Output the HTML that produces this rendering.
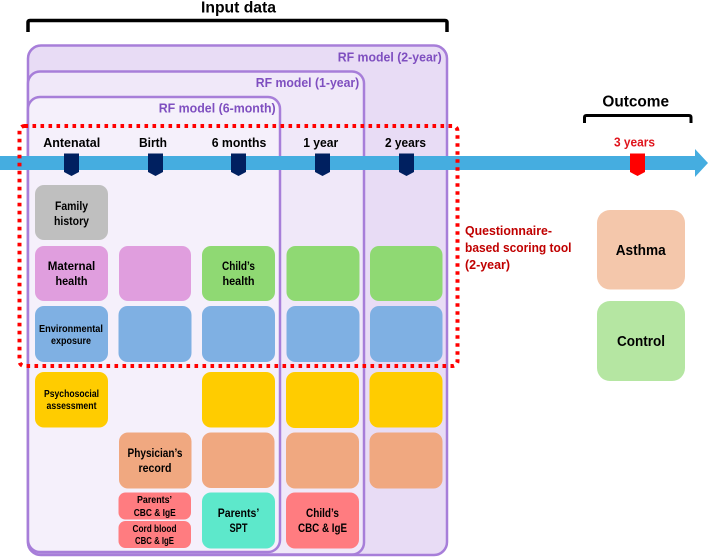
<!DOCTYPE html>
<html><head><meta charset="utf-8"><style>
html,body{margin:0;padding:0;background:#fff;width:709px;height:557px;overflow:hidden}
svg{display:block}
text{font-family:"Liberation Sans",sans-serif;font-weight:bold;text-anchor:middle;fill:#000}
.p{fill:#7f4fc0;font-size:13px}
.q{text-anchor:start;fill:#c00000;font-size:13px}
</style></head><body>
<svg width="709" height="557" viewBox="0 0 709 557" xmlns="http://www.w3.org/2000/svg">
<path d="M28 32V22.500Q28 20.500 30 20.500H445Q447 20.500 447 22.500V32" fill="none" stroke="#000" stroke-width="3.500"/>
<text x="238.500" y="12.500" font-size="15.500" textLength="75" lengthAdjust="spacingAndGlyphs">Input data</text>
<rect x="28" y="45.500" width="419" height="509.500" rx="13" fill="#e8dcf5" stroke="#a77ed9" stroke-width="2.500"/>
<rect x="28" y="71.500" width="336" height="483" rx="12" fill="#f0e8f9" stroke="#a77ed9" stroke-width="2.500"/>
<rect x="28" y="97" width="252" height="455" rx="12" fill="#f5f0fb" stroke="#a77ed9" stroke-width="2.500"/>
<text class="p" x="389.700" y="61.700" textLength="104" lengthAdjust="spacingAndGlyphs">RF model (2-year)</text>
<text class="p" x="307.500" y="87" textLength="103.500" lengthAdjust="spacingAndGlyphs">RF model (1-year)</text>
<text class="p" x="217.200" y="112.300" textLength="117" lengthAdjust="spacingAndGlyphs">RF model (6-month)</text>
<path d="M0 156H695V149L708 163L695 177V170H0Z" fill="#45ade0"/>
<g fill="#002060">
<path d="M64 153.500H79V172L71.500 176L64 172Z"/>
<path d="M148 153.500H163V172L155.500 176L148 172Z"/>
<path d="M231 153.500H246V172L238.500 176L231 172Z"/>
<path d="M315 153.500H330V172L322.500 176L315 172Z"/>
<path d="M399 153.500H414V172L406.500 176L399 172Z"/>
</g>
<path d="M630 153.500H645V172L637.500 176L630 172Z" fill="#f00"/>
<g font-size="13">
<text x="71.700" y="147" textLength="57" lengthAdjust="spacingAndGlyphs">Antenatal</text>
<text x="153" y="147" textLength="28" lengthAdjust="spacingAndGlyphs">Birth</text>
<text x="239" y="147" textLength="54.600" lengthAdjust="spacingAndGlyphs">6 months</text>
<text x="320.700" y="147" textLength="35" lengthAdjust="spacingAndGlyphs">1 year</text>
<text x="405.500" y="147" textLength="41" lengthAdjust="spacingAndGlyphs">2 years</text>
</g>
<text x="634.500" y="146.700" font-size="13" style="fill:#e0141c" textLength="41" lengthAdjust="spacingAndGlyphs">3 years</text>
<text x="635.700" y="106.700" font-size="15.500" textLength="66.700" lengthAdjust="spacingAndGlyphs">Outcome</text>
<path d="M584.500 123V117.500Q584.500 115.500 586.500 115.500H689Q691 115.500 691 117.500V123" fill="none" stroke="#000" stroke-width="3"/>

<g>
<rect x="35" y="185" width="73" height="55" rx="9" fill="#bfbfbf"/>
<rect x="35" y="246" width="73" height="55" rx="9" fill="#e09ede"/>
<rect x="119" y="246" width="72" height="55" rx="9" fill="#e09ede"/>
<rect x="202" y="246" width="73" height="55" rx="9" fill="#8fd973"/>
<rect x="286.500" y="246" width="73" height="55" rx="9" fill="#8fd973"/>
<rect x="370" y="246" width="72.500" height="55" rx="9" fill="#8fd973"/>
<rect x="35" y="306" width="73" height="56" rx="9" fill="#7fb0e3"/>
<rect x="118.500" y="306" width="73" height="56" rx="9" fill="#7fb0e3"/>
<rect x="202" y="306" width="73" height="56" rx="9" fill="#7fb0e3"/>
<rect x="286.500" y="306" width="73" height="56" rx="9" fill="#7fb0e3"/>
<rect x="370" y="306" width="72.500" height="56" rx="9" fill="#7fb0e3"/>
<rect x="35" y="372" width="73" height="55.500" rx="9" fill="#ffcc00"/>
<rect x="202" y="372" width="73" height="55.500" rx="9" fill="#ffcc00"/>
<rect x="286" y="372" width="73" height="56" rx="9" fill="#ffcc00"/>
<rect x="369.500" y="372" width="73" height="55.500" rx="9" fill="#ffcc00"/>
<rect x="119" y="432.500" width="72.500" height="56" rx="9" fill="#f0a880"/>
<rect x="202" y="432.500" width="72.500" height="55.500" rx="9" fill="#f0a880"/>
<rect x="286" y="432.500" width="73" height="56" rx="9" fill="#f0a880"/>
<rect x="369.500" y="432.500" width="73" height="56" rx="9" fill="#f0a880"/>
<rect x="118.500" y="492.500" width="72.500" height="27" rx="7" fill="#ff7c80"/>
<rect x="118.500" y="521" width="72.500" height="27" rx="7" fill="#ff7c80"/>
<rect x="202" y="492.500" width="73" height="56" rx="9" fill="#5de8cb"/>
<rect x="286" y="492.500" width="73" height="56" rx="9" fill="#ff7c80"/>
<rect x="597" y="210" width="88" height="79.500" rx="13" fill="#f4c7ab"/>
<rect x="597" y="301" width="88" height="80" rx="13" fill="#b5e6a2"/>
</g>

<g font-size="12">
<text x="71.500" y="210" textLength="33" lengthAdjust="spacingAndGlyphs">Family</text>
<text x="71.500" y="225" textLength="35" lengthAdjust="spacingAndGlyphs">history</text>
<text x="71.500" y="270" textLength="47.500" lengthAdjust="spacingAndGlyphs">Maternal</text>
<text x="71.500" y="285" textLength="32" lengthAdjust="spacingAndGlyphs">health</text>
<text x="238.500" y="270" textLength="33" lengthAdjust="spacingAndGlyphs">Child’s</text>
<text x="238.500" y="285" textLength="32" lengthAdjust="spacingAndGlyphs">health</text>
<text x="155" y="457" textLength="55" lengthAdjust="spacingAndGlyphs">Physician’s</text>
<text x="155" y="472" textLength="33" lengthAdjust="spacingAndGlyphs">record</text>
<text x="238.500" y="517" textLength="41.600" lengthAdjust="spacingAndGlyphs">Parents’</text>
<text x="238.500" y="532" textLength="18" lengthAdjust="spacingAndGlyphs">SPT</text>
<text x="322.500" y="517" textLength="33" lengthAdjust="spacingAndGlyphs">Child’s</text>
<text x="322.500" y="532" textLength="49" lengthAdjust="spacingAndGlyphs">CBC &amp; IgE</text>
</g>
<g font-size="10">
<text x="71" y="332" textLength="64" lengthAdjust="spacingAndGlyphs">Environmental</text>
<text x="71" y="344" textLength="40" lengthAdjust="spacingAndGlyphs">exposure</text>
<text x="71.500" y="397" textLength="55" lengthAdjust="spacingAndGlyphs">Psychosocial</text>
<text x="71.500" y="409" textLength="50" lengthAdjust="spacingAndGlyphs">assessment</text>
<text x="154.500" y="503" textLength="35" lengthAdjust="spacingAndGlyphs">Parents’</text>
<text x="154.700" y="516" textLength="42" lengthAdjust="spacingAndGlyphs">CBC &amp; IgE</text>
<text x="154.500" y="532" textLength="44" lengthAdjust="spacingAndGlyphs">Cord blood</text>
<text x="154.500" y="544" textLength="39" lengthAdjust="spacingAndGlyphs">CBC &amp; IgE</text>
</g>
<text x="640.700" y="255" font-size="14.500" textLength="50" lengthAdjust="spacingAndGlyphs">Asthma</text>
<text x="641" y="346" font-size="14.500" textLength="48" lengthAdjust="spacingAndGlyphs">Control</text>

<rect x="19.500" y="126" width="438" height="240" rx="5" fill="none" stroke="#f00" stroke-width="4" stroke-dasharray="3.600 4.400"/>
<text class="q" x="465" y="235" textLength="87" lengthAdjust="spacingAndGlyphs">Questionnaire-</text>
<text class="q" x="465" y="252" textLength="106.500" lengthAdjust="spacingAndGlyphs">based scoring tool</text>
<text class="q" x="465" y="269" textLength="45" lengthAdjust="spacingAndGlyphs">(2-year)</text>
</svg>
</body></html>
